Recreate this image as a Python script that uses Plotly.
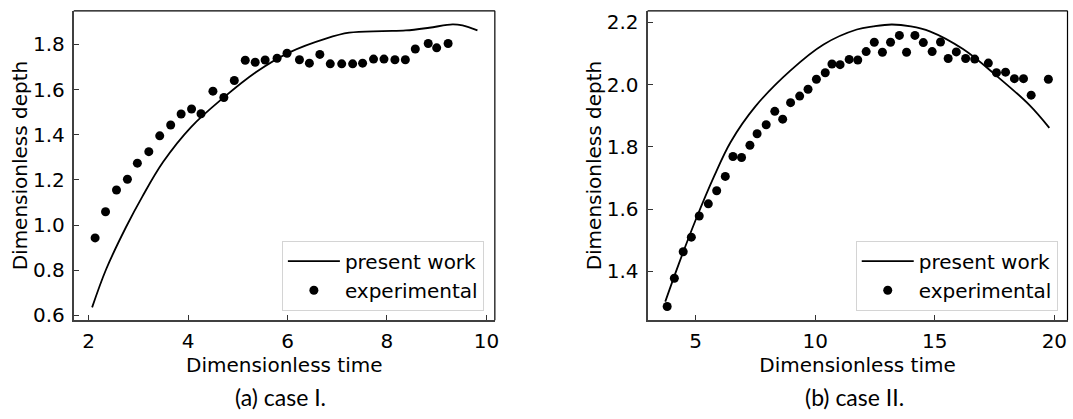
import plotly.graph_objects as go
from plotly.subplots import make_subplots

# ---- Case I data ----
exp1_t = [2.13, 2.34, 2.56, 2.78, 2.98, 3.21, 3.43, 3.65, 3.86, 4.07, 4.26, 4.50, 4.72, 4.93,
          5.15, 5.35, 5.55, 5.79, 5.99, 6.24, 6.44, 6.65, 6.86, 7.09, 7.31, 7.51, 7.73, 7.94,
          8.16, 8.37, 8.57, 8.83, 9.00, 9.23]
exp1_d = [0.943, 1.059, 1.155, 1.203, 1.274, 1.325, 1.395, 1.443, 1.492, 1.514, 1.493, 1.593,
          1.565, 1.640, 1.730, 1.721, 1.731, 1.739, 1.761, 1.732, 1.717, 1.756, 1.714, 1.714,
          1.714, 1.717, 1.735, 1.735, 1.732, 1.732, 1.780, 1.804, 1.785, 1.804]
model1_t = [2.07, 2.35, 2.75, 3.08, 3.50, 4.06, 4.70, 5.37, 6.04, 6.77, 7.24, 7.91, 8.38,
            8.85, 9.32, 9.52, 9.82]
model1_d = [0.635, 0.803, 0.990, 1.126, 1.280, 1.434, 1.562, 1.678, 1.765, 1.826, 1.852, 1.859,
            1.862, 1.874, 1.889, 1.884, 1.862]

# ---- Case II data ----
exp2_t = [3.81, 4.11, 4.48, 4.82, 5.15, 5.53, 5.88, 6.24, 6.56, 6.92, 7.27, 7.57, 7.95, 8.31,
          8.64, 8.97, 9.35, 9.70, 10.05, 10.42, 10.70, 11.04, 11.42, 11.78, 12.13, 12.47, 12.81,
          13.15, 13.52, 13.82, 14.17, 14.52, 14.89, 15.24, 15.56, 15.90, 16.29, 16.67, 17.24,
          17.58, 17.96, 18.33, 18.71, 19.03, 19.75]
exp2_d = [1.287, 1.378, 1.463, 1.510, 1.578, 1.617, 1.659, 1.705, 1.769, 1.766, 1.805, 1.842,
          1.871, 1.914, 1.889, 1.942, 1.963, 1.985, 2.017, 2.038, 2.066, 2.064, 2.081, 2.079,
          2.106, 2.136, 2.104, 2.136, 2.158, 2.104, 2.158, 2.135, 2.106, 2.137, 2.084, 2.105,
          2.084, 2.082, 2.069, 2.038, 2.040, 2.019, 2.019, 1.966, 2.017]
model2_t = [3.73, 4.30, 5.00, 5.77, 6.46, 7.50, 8.96, 10.35, 11.74, 12.43, 13.20,
            14.00, 14.79, 16.18, 17.57, 18.96, 19.79]
model2_d = [1.303, 1.425, 1.565, 1.705, 1.815, 1.930, 2.045, 2.129, 2.177, 2.187,
            2.193, 2.187, 2.171, 2.114, 2.029, 1.934, 1.861]

xticks1 = [2, 4, 6, 8, 10]
yticks1 = [0.6, 0.8, 1.0, 1.2, 1.4, 1.6, 1.8]
xticks2 = [5, 10, 15, 20]
yticks2 = [1.4, 1.6, 1.8, 2.0, 2.2]

x_title = "Dimensionless time"
y_title = "Dimensionless depth"
captions = ["(a) case I.", "(b) case II."]

FONT = "DejaVu Sans"
FS = 20

fig = make_subplots(rows=1, cols=2)

def add_case(col, mt, md, et, ed, legend):
    fig.add_trace(go.Scatter(x=mt, y=md, mode="lines", name="present work",
                             line=dict(color="black", width=1.8, shape="spline", smoothing=1.0),
                             legend=legend), row=1, col=col)
    fig.add_trace(go.Scatter(x=et, y=ed, mode="markers", name="experimental",
                             marker=dict(color="black", size=9),
                             legend=legend), row=1, col=col)

add_case(1, model1_t, model1_d, exp1_t, exp1_d, "legend")
add_case(2, model2_t, model2_d, exp2_t, exp2_d, "legend2")

W, H = 1073, 419
px = lambda v: v / W
py = lambda v: 1 - v / H

axis_common = dict(showgrid=False, zeroline=False, ticks="inside", ticklen=5, tickwidth=1.3,
                   tickcolor="#333", showline=True, linecolor="#404040", linewidth=2,
                   mirror=False, tickfont=dict(family=FONT, size=FS, color="black"),
                   title_font=dict(family=FONT, size=FS, color="black"))

fig.update_xaxes(**axis_common)
fig.update_yaxes(**axis_common)

fig.update_xaxes(domain=[px(74), px(496.7)], range=[1.70, 10.17], tickvals=xticks1,
                 title_text=x_title, title_standoff=2, ticklabelstandoff=2, row=1, col=1)
fig.update_yaxes(domain=[py(325.7), py(11)], range=[0.578, 1.949], tickvals=yticks1,
                 tickformat=".1f", title_text=y_title, title_standoff=0, ticklabelstandoff=3,
                 row=1, col=1)
fig.update_xaxes(domain=[px(650), px(1071.5)], range=[2.99, 20.55], tickvals=xticks2,
                 title_text=x_title, title_standoff=2, ticklabelstandoff=2, row=1, col=2)
fig.update_yaxes(domain=[py(325.7), py(11)], range=[1.243, 2.237], tickvals=yticks2,
                 tickformat=".1f", title_text=y_title, title_standoff=0, ticklabelstandoff=3,
                 row=1, col=2)

# top/right spines
for xa, ya in [("x", "y"), ("x2", "y2")]:
    fig.add_shape(type="line", xref=f"{xa} domain", yref=f"{ya} domain", x0=0, x1=1, y0=1, y1=1,
                  line=dict(color="black", width=1.2))
    fig.add_shape(type="line", xref=f"{xa} domain", yref=f"{ya} domain", x0=1, x1=1, y0=0, y1=1,
                  line=dict(color="black", width=1.2))

legend_style = dict(font=dict(family=FONT, size=FS, color="black"), bgcolor="white",
                    bordercolor="#d4d4d4", borderwidth=1, xanchor="right", yanchor="bottom",
                    itemwidth=52, tracegroupgap=0)
fig.update_layout(
    legend=dict(x=px(485.7), y=py(316), **legend_style),
    legend2=dict(x=px(1061.7), y=py(316), **legend_style),
)

for cx, txt in zip([282, 858], captions):
    fig.add_annotation(x=px(cx), y=py(404), xref="paper", yref="paper", text=txt,
                       showarrow=False, font=dict(family="Lato", size=23, color="black"),
                       xanchor="center", yanchor="middle")

fig.update_layout(width=W, height=H, margin=dict(l=0, r=0, t=0, b=0),
                  plot_bgcolor="white", paper_bgcolor="white",
                  font=dict(family=FONT, size=FS, color="black"))

fig.write_html("out.html", config={"displayModeBar": False},
               post_script="document.body.style.margin='0';document.body.style.padding='0';")
